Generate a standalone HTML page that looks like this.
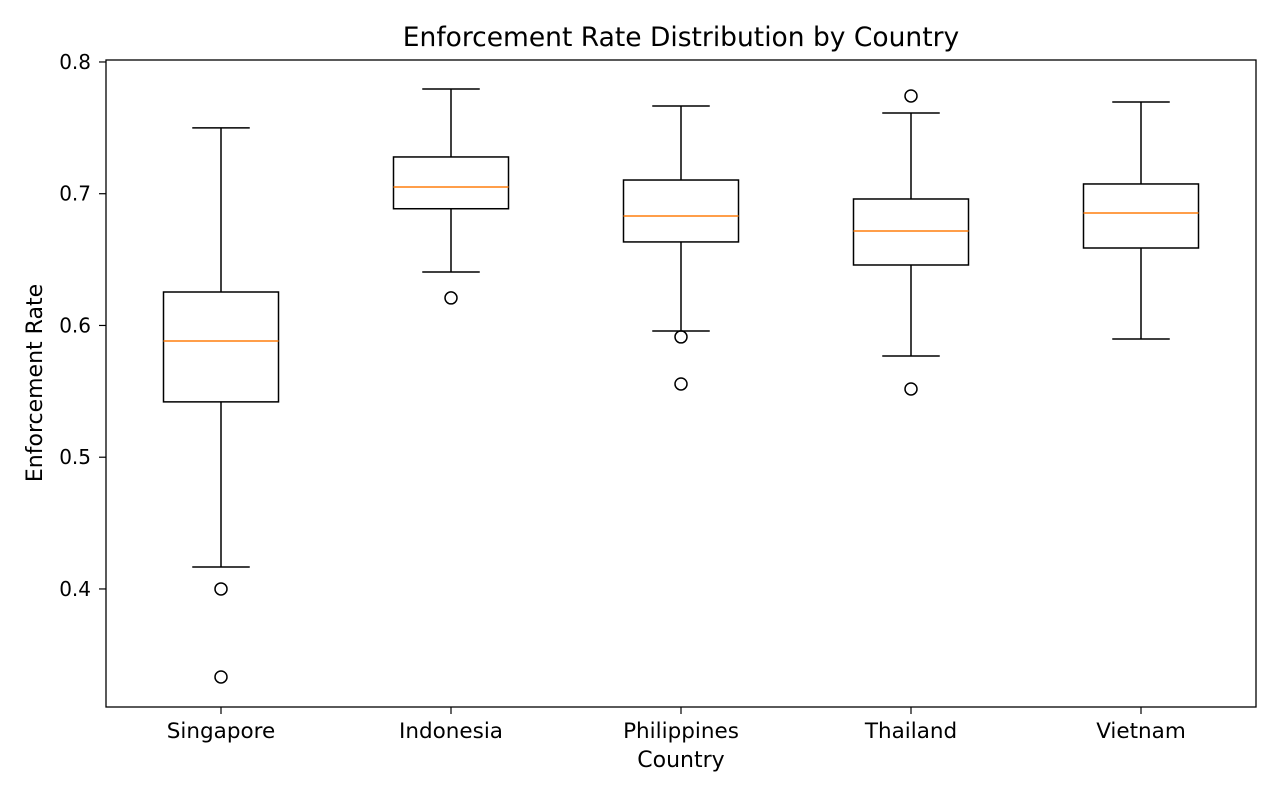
<!DOCTYPE html>
<html><head><meta charset="utf-8"><style>
body{margin:0;background:#fff;font-family:"Liberation Sans","DejaVu Sans",sans-serif;}
svg text{font-family:"DejaVu Sans","Liberation Sans",sans-serif;fill:#000;}
</style></head><body>
<svg id="chart" width="1280" height="800" xmlns="http://www.w3.org/2000/svg">
<rect width="1280" height="800" fill="#fff"/>
<text x="681" y="46" text-anchor="middle" font-size="26.5">Enforcement Rate Distribution by Country</text>
<text x="681" y="767" text-anchor="middle" font-size="22">Country</text>
<text transform="translate(42,383) rotate(-90)" text-anchor="middle" font-size="22">Enforcement Rate</text>
<g id="marks"></g>
<rect x="106" y="60" width="1150" height="647" fill="none" stroke="#000" stroke-width="1.3"/>
</svg>
<script>
const categories = ["Singapore","Indonesia","Philippines","Thailand","Vietnam"];
const whiskerLow = [0.4167,0.6406,0.5958,0.5768,0.5897];
const q1Values = [0.542,0.6886,0.6634,0.6459,0.6588];
const medians = [0.5882,0.7051,0.6831,0.6717,0.6854];
const q3Values = [0.6254,0.7279,0.7104,0.696,0.7074];
const whiskerHigh = [0.75,0.7795,0.7666,0.7613,0.7696];
const outliers = [[0.4,0.3332],[0.6209],[0.5913,0.5556],[0.7742,0.5518],[]];
const yTicks = [0.4,0.5,0.6,0.7,0.8];
const yTickLabels = ["0.4","0.5","0.6","0.7","0.8"];

const plotL=106, plotR=1256, plotT=60, plotB=707;
const yMin=0.3104, yMax=0.8015;
function y(v){return plotB-(v-yMin)/(yMax-yMin)*(plotB-plotT);}
const step=(plotR-plotL)/categories.length;
function x(i){return plotL+step*(i+0.5);}
const boxW=step*0.5;
const NS="http://www.w3.org/2000/svg";
const g=document.getElementById('marks');
function mk(tag,attrs,parent){const e=document.createElementNS(NS,tag);for(const k in attrs)e.setAttribute(k,attrs[k]);(parent||g).appendChild(e);return e;}

yTicks.forEach((t,i)=>{
  const l=mk('line',{x1:plotL-7,x2:plotL,y1:y(t),y2:y(t),stroke:'#000','stroke-width':1.2});
  
  
  const tx=mk('text',{x:plotL-15,y:y(t)+7,'text-anchor':'end','font-size':20});
  tx.textContent=yTickLabels[i];
  
  
});

categories.forEach((c,i)=>{
  const cx=x(i);
  const grp=mk('g',{});
  
  
  const a={stroke:'#000','stroke-width':1.5,fill:'none'};
  mk('line',Object.assign({x1:cx,x2:cx,y1:y(q3Values[i]),y2:y(whiskerHigh[i])},a),grp);
  mk('line',Object.assign({x1:cx,x2:cx,y1:y(q1Values[i]),y2:y(whiskerLow[i])},a),grp);
  mk('line',Object.assign({x1:cx-boxW/4,x2:cx+boxW/4,y1:y(whiskerHigh[i]),y2:y(whiskerHigh[i])},a),grp);
  mk('line',Object.assign({x1:cx-boxW/4,x2:cx+boxW/4,y1:y(whiskerLow[i]),y2:y(whiskerLow[i])},a),grp);
  mk('rect',Object.assign({x:cx-boxW/2,y:y(q3Values[i]),width:boxW,height:y(q1Values[i])-y(q3Values[i])},a),grp);
  mk('line',{x1:cx-boxW/2,x2:cx+boxW/2,y1:y(medians[i]),y2:y(medians[i]),stroke:'#ff7f0e','stroke-width':1.5},grp);
  outliers[i].forEach(o=>{mk('circle',{cx:cx,cy:y(o),r:6,fill:'none',stroke:'#000','stroke-width':1.5},grp);});
  const tk=mk('line',{x1:cx,x2:cx,y1:plotB,y2:plotB+7,stroke:'#000','stroke-width':1.2});
  
  
  const tl=mk('text',{x:cx,y:plotB+31,'text-anchor':'middle','font-size':21.5});
  tl.textContent=c;
  
  
});
</script>
</body></html>
